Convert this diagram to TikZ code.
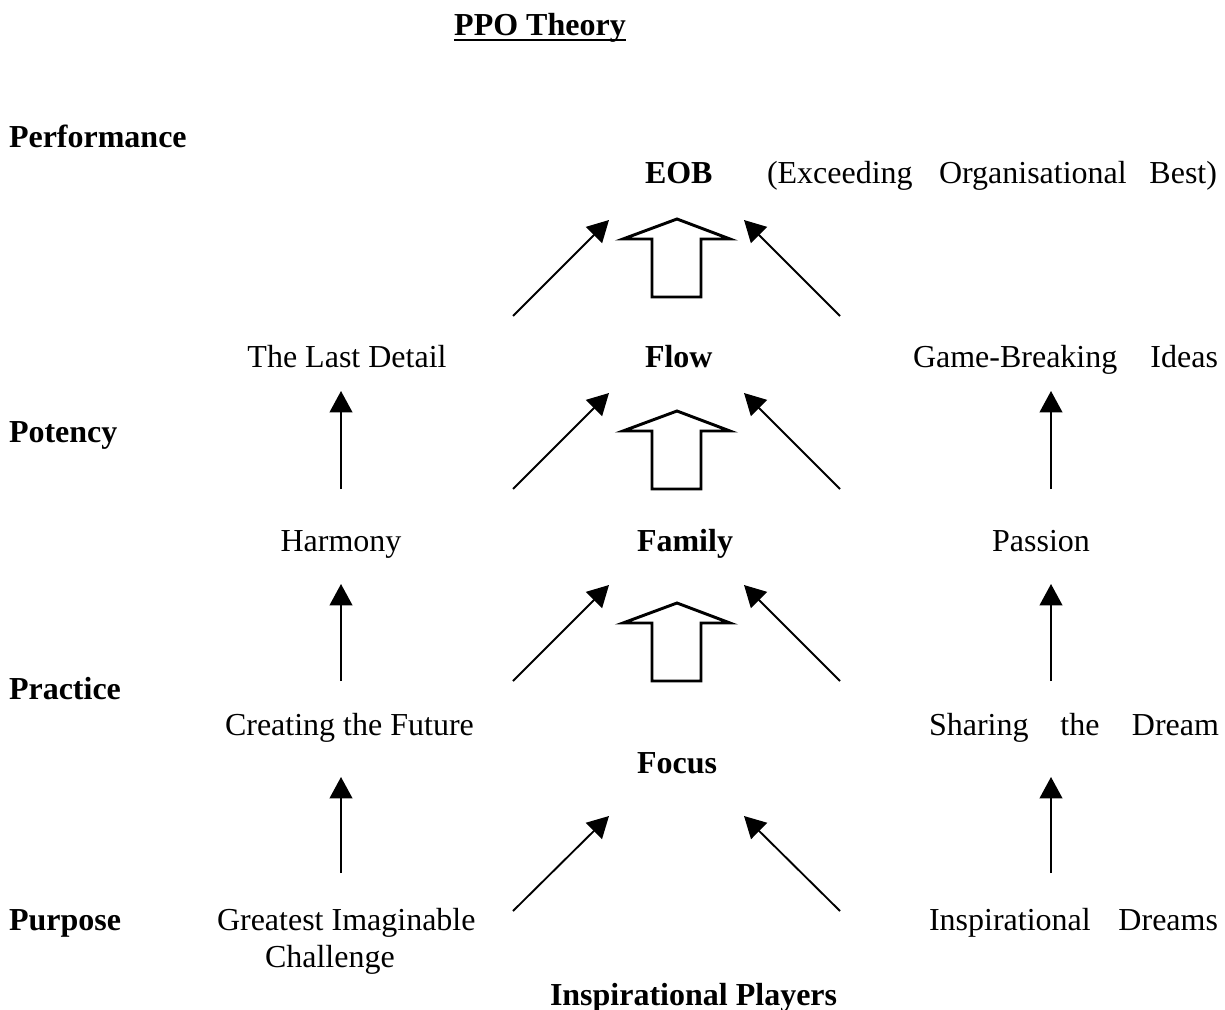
\documentclass[tikz,border=0pt]{standalone}
\usepackage{fontspec}
\setmainfont{Liberation Serif}
\usetikzlibrary{arrows.meta}
\begin{document}
\begin{tikzpicture}[x=0.75pt,y=-0.75pt,
  every node/.style={inner sep=0pt,outer sep=0pt,font=\fontsize{24}{28}\selectfont},
  bf/.style={font=\fontsize{24}{28}\selectfont\bfseries},
  arr/.style={line width=1.4pt,-{Triangle[length=16pt,width=17pt]}},
  blockarrow/.style={line width=2.2pt,fill=white,line join=miter}]
\useasboundingbox (0,0) rectangle (1225,1010);

% titles and level labels
\node[bf,anchor=base] (ppo) at (540,35) {PPO Theory};
\draw[line width=1.5pt] ([yshift=-3.9pt]ppo.base west) -- ([yshift=-3.9pt]ppo.base east);
\node[bf,anchor=base west] (perf) at (9,147) {Performance};
\node[bf,anchor=base west] (pot) at (9,442) {Potency};
\node[bf,anchor=base west] (prac) at (9,699) {Practice};
\node[bf,anchor=base west] (purp) at (9,930) {Purpose};

% EOB row
\node[bf,anchor=base west] (eob) at (645,183) {EOB};
\node[anchor=base west] (exc) at (767,183) {(Exceeding};
\node[anchor=base west] (org) at (939,183) {Organisational};
\node[anchor=base east] (best) at (1217,183) {Best)};

% Flow row
\node[anchor=base] (last) at (347,367) {The Last Detail};
\node[bf,anchor=base west] (flow) at (645,367) {Flow};
\node[anchor=base west] (game) at (913,367) {Game-Breaking};
\node[anchor=base east] (ideas) at (1218,367) {Ideas};

% Family row
\node[anchor=base] (harm) at (341,551) {Harmony};
\node[bf,anchor=base west] (fam) at (637,551) {Family};
\node[anchor=base] (pass) at (1041,551) {Passion};

% Practice row
\node[anchor=base west] (create) at (225,735) {Creating the Future};
\node[anchor=base west] (share) at (929,735) {Sharing};
\node[anchor=base] (the) at (1080,735) {the};
\node[anchor=base east] (dream) at (1219,735) {Dream};
\node[bf,anchor=base west] (focus) at (637,773) {Focus};

% Purpose row
\node[anchor=base west] (great) at (217,930) {Greatest Imaginable};
\node[anchor=base west] (chal) at (265,967) {Challenge};
\node[anchor=base west] (insp) at (929,930) {Inspirational};
\node[anchor=base east] (dreams) at (1218,930) {Dreams};
\node[bf,anchor=base west] (players) at (550,1005) {Inspirational Players};

% arrow end points
\coordinate (a1s) at (513,316); \coordinate (a1e) at (609,220);
\coordinate (b1s) at (840,316); \coordinate (b1e) at (744,220);
\coordinate (a2s) at (513,489); \coordinate (a2e) at (609,393);
\coordinate (b2s) at (840,489); \coordinate (b2e) at (744,393);
\coordinate (a3s) at (513,681); \coordinate (a3e) at (609,585);
\coordinate (b3s) at (840,681); \coordinate (b3e) at (744,585);
\coordinate (a4s) at (513,911); \coordinate (a4e) at (609,816);
\coordinate (b4s) at (840,911); \coordinate (b4e) at (744,816);

\coordinate (l1s) at (341,489); \coordinate (l1e) at (341,391);
\coordinate (l2s) at (341,681); \coordinate (l2e) at (341,584);
\coordinate (l3s) at (341,873); \coordinate (l3e) at (341,777);
\coordinate (r1s) at (1051,489); \coordinate (r1e) at (1051,391);
\coordinate (r2s) at (1051,681); \coordinate (r2e) at (1051,584);
\coordinate (r3s) at (1051,873); \coordinate (r3e) at (1051,777);

\foreach \p in {a1,b1,a2,b2,a3,b3,a4,b4,l1,l2,l3,r1,r2,r3}
  \draw[arr] (\p s) -- (\p e);

% hollow block arrows
\foreach \t in {219,411,603}
  \draw[blockarrow] (652,\t+78) -- (652,\t+20) -- (623,\t+20) -- (677,\t)
    -- (730,\t+20) -- (701,\t+20) -- (701,\t+78) -- cycle;
\end{tikzpicture}
\end{document}
